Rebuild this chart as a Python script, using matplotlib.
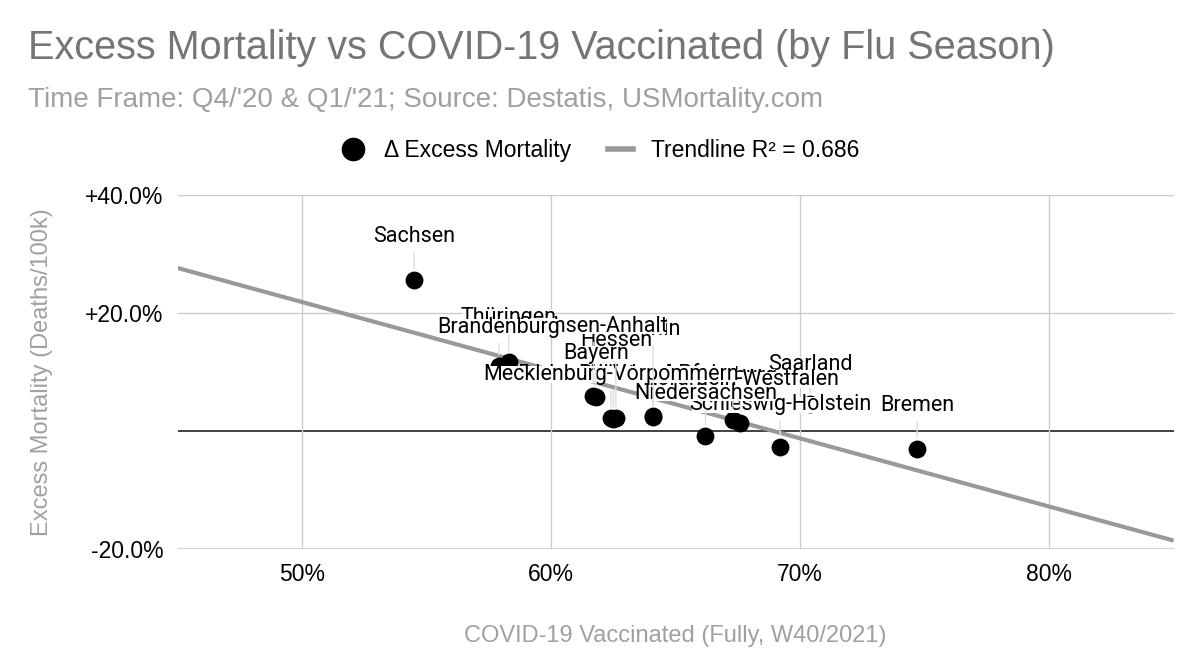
import matplotlib
matplotlib.use('Agg')
import matplotlib.pyplot as plt
from matplotlib.lines import Line2D
from matplotlib.ticker import FuncFormatter

plt.rcParams['font.family'] = ['Liberation Sans', 'DejaVu Sans']

# states in drawing order (later labels sit on top)
states = ['Bremen', 'Saarland', 'Schleswig-Holstein', 'Hamburg', 'Nordrhein-Westfalen',
          'Niedersachsen', 'Rheinland-Pfalz', 'Baden-Württemberg', 'Mecklenburg-Vorpommern',
          'Berlin', 'Hessen', 'Thüringen', 'Sachsen-Anhalt', 'Bayern', 'Brandenburg', 'Sachsen']
# fully vaccinated share, W40/2021 (%)
vaccinated = [74.7, 70.4, 69.2, 67.3, 67.6,
              66.2, 64.1, 62.5, 62.4,
              64.1, 62.6, 58.3, 61.7, 61.8, 57.9, 54.5]
# change of excess mortality (%)
excess = [-3.05, 4.6, -2.7, 1.9, 1.4,
          -0.85, 2.5, 2.1, 2.2,
          2.4, 2.2, 11.7, 5.9, 5.8, 11.0, 25.6]

# trendline as shown in the chart
trend_slope = -1.155
trend_intercept = 79.6
r_squared = 0.686

# label lift above point, pixels
label_lift = [43, 39, 42, 43, 43, 43, 42, 44, 44, 87, 78, 44, 70, 43, 39, 43]

fig = plt.figure(figsize=(12, 6.7), dpi=100)
ax = fig.add_axes([0.148, 0.1806, 0.83, 0.5284])
ax.set_xlim(45, 85)
ax.set_ylim(-20, 40)

for s in ax.spines.values():
    s.set_visible(False)
ax.set_xticks([50, 60, 70, 80])
ax.set_yticks([-20, 20, 40])
ax.grid(True, color='#cccccc', lw=1)
ax.axhline(-20, color='#cccccc', lw=1.2, zorder=1)
ax.axhline(0, color='#333333', lw=1.3, zorder=1)
ax.tick_params(length=0, labelsize=16.5, colors='black', pad=10)
ax.xaxis.set_major_formatter(FuncFormatter(lambda v, p: f'{v:.0f}%'))
ax.yaxis.set_major_formatter(FuncFormatter(lambda v, p: f'{v:+.1f}%'))

tx = [45, 85]
ax.plot(tx, [trend_intercept + trend_slope * v for v in tx], color='#999999', lw=3, zorder=2,
        solid_capstyle='butt')

ax.scatter(vaccinated, excess, s=165, color='black', zorder=3, linewidths=0)

for name, xv, yv, lift in zip(states, vaccinated, excess, label_lift):
    ax.annotate(name, (xv, yv), xytext=(0, lift), textcoords='offset pixels',
                ha='center', va='center', fontsize=15.5, color='black', zorder=4,
                family=['Roboto', 'DejaVu Sans'],
                bbox=dict(boxstyle='square,pad=-0.12', fc='white', ec='none'),
                arrowprops=dict(arrowstyle='-', color='#dddddd', lw=1, shrinkA=6, shrinkB=8))

ax.set_xlabel('COVID-19 Vaccinated (Fully, W40/2021)', fontsize=17, color='#a0a0a0', labelpad=28)
ax.set_ylabel('Excess Mortality (Deaths/100k)', fontsize=17, color='#a0a0a0', labelpad=23)

fig.text(0.023, 0.928, 'Excess Mortality vs COVID-19 Vaccinated (by Flu Season)',
         fontsize=28.5, color='#757575', va='center')
fig.text(0.023, 0.851, "Time Frame: Q4/'20 & Q1/'21; Source: Destatis, USMortality.com",
         fontsize=20, color='#a0a0a0', va='center')

handles = [Line2D([], [], marker='o', color='black', ls='none', markersize=16),
           Line2D([], [], color='#999999', lw=4)]
fig.legend(handles, ['Δ Excess Mortality', f'Trendline R² = {r_squared}'],
           loc='center', bbox_to_anchor=(0.5, 0.776), ncol=2, frameon=False,
           fontsize=16.5, handlelength=1.1, columnspacing=1.6, handletextpad=0.8)

fig.savefig('out.png', dpi=100)
